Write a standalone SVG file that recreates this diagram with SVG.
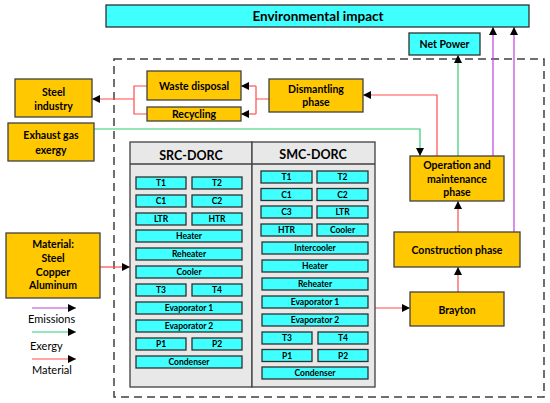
<svg xmlns="http://www.w3.org/2000/svg" width="550" height="403" viewBox="0 0 550 403">
<style>
.y{fill:#ffc800;stroke:#404040;stroke-width:1.3}
.c{fill:#40ffff;stroke:#303030;stroke-width:1.3}
.t{font-family:Lato,"Open Sans",sans-serif;font-weight:bold;fill:#000;text-anchor:middle;dominant-baseline:central}
.n{font-size:10.5px}
.s{font-size:8.5px}
.h{font-size:12.5px}
.lg{font-family:Lato,"Open Sans",sans-serif;font-size:11px;fill:#000}
.r{stroke:#ff4d4d;stroke-width:1.2;fill:none}
.g{stroke:#33cc77;stroke-width:1.2;fill:none}
.p{stroke:#c040e0;stroke-width:1.2;fill:none}
</style>
<defs>
<marker id="ah" viewBox="0 0 10 10" refX="10" refY="5" markerWidth="8" markerHeight="8" markerUnits="userSpaceOnUse" orient="auto"><path d="M0,0 L10,5 L0,10 z" fill="#000"/></marker>
</defs>
<rect width="550" height="403" fill="#fff"/>
<rect id="boundary" x="114" y="59" width="430" height="338" fill="none" stroke="#404040" stroke-width="1.5" stroke-dasharray="8 5"/>

<g id="connectors">
<path class="r" d="M269,99 H256 M256,86 V114"/>
<path class="r" d="M256,86 H241" marker-end="url(#ah)"/>
<path class="r" d="M256,114 H241" marker-end="url(#ah)"/>
<path class="r" d="M147,86 H134 V114 H147"/>
<path class="r" d="M134,99 H92" stroke-width="2" stroke="#ff6b6b" marker-end="url(#ah)"/>
<path class="g" d="M94,129 H420 V156" marker-end="url(#ah)"/>
<path class="r" d="M437,156 V95 H363" marker-end="url(#ah)"/>
<path class="g" d="M458,156 V55" marker-end="url(#ah)"/>
<path class="p" d="M493,156 V27" marker-end="url(#ah)"/>
<path class="p" d="M514,232 V27" marker-end="url(#ah)"/>
<path class="r" d="M458,232 V201" marker-end="url(#ah)"/>
<path class="r" d="M458,292 V267" marker-end="url(#ah)"/>
<path class="r" d="M375,308 H410" marker-end="url(#ah)"/>
<path class="r" d="M100,267 H130" marker-end="url(#ah)"/>
</g>

<g id="env">
<rect x="106" y="5" width="423" height="22" class="c"/>
<text x="318" y="16" class="t" font-size="13.5">Environmental impact</text>
</g>
<g id="netpower">
<rect x="409" y="33" width="71" height="22" class="c"/>
<text x="444.5" y="44" class="t n">Net Power</text>
</g>
<g id="steel">
<rect x="15" y="79" width="77" height="38" class="y"/>
<text x="53.5" y="92" class="t n">Steel</text>
<text x="53.5" y="106" class="t n">industry</text>
</g>
<g id="waste">
<rect x="147" y="71" width="94" height="29" class="y"/>
<text x="194" y="86" class="t n">Waste disposal</text>
</g>
<g id="recycling">
<rect x="147" y="107" width="94" height="14" class="y"/>
<text x="194" y="114" class="t n">Recycling</text>
</g>
<g id="dismantling">
<rect x="269" y="79" width="94" height="33" class="y"/>
<text x="316" y="89" class="t n">Dismantling</text>
<text x="316" y="102" class="t n">phase</text>
</g>
<g id="exhaust">
<rect x="8" y="123" width="86" height="38" class="y"/>
<text x="51" y="135" class="t n">Exhaust gas</text>
<text x="51" y="150" class="t n">exergy</text>
</g>
<g id="operation">
<rect x="410" y="156" width="94" height="45" class="y"/>
<text x="457" y="165" class="t n">Operation and</text>
<text x="457" y="178.5" class="t n">maintenance</text>
<text x="457" y="192" class="t n">phase</text>
</g>
<g id="construction">
<rect x="394" y="232" width="126" height="35" class="y"/>
<text x="457" y="250" class="t n">Construction phase</text>
</g>
<g id="brayton">
<rect x="410" y="292" width="94" height="34" class="y"/>
<text x="457" y="310" class="t n">Brayton</text>
</g>
<g id="material">
<rect x="6" y="233" width="94" height="65" class="y"/>
<text x="53" y="244" class="t n">Material:</text>
<text x="53" y="258" class="t n">Steel</text>
<text x="53" y="272" class="t n">Copper</text>
<text x="53" y="285" class="t n">Aluminum</text>
</g>

<g id="src-dorc">
<rect x="130" y="142" width="122" height="245" fill="#e8e8e8" stroke="#404040" stroke-width="1.3"/>
<line x1="130" y1="164" x2="252" y2="164" stroke="#404040" stroke-width="1.3"/>
<text x="191" y="155" class="t h">SRC-DORC</text>
<rect x="136" y="177" width="50" height="12" class="c"/><text x="161" y="183" class="t s">T1</text>
<rect x="192" y="177" width="50" height="12" class="c"/><text x="217" y="183" class="t s">T2</text>
<rect x="136" y="195" width="50" height="12" class="c"/><text x="161" y="201" class="t s">C1</text>
<rect x="192" y="195" width="50" height="12" class="c"/><text x="217" y="201" class="t s">C2</text>
<rect x="136" y="213" width="50" height="12" class="c"/><text x="161" y="219" class="t s">LTR</text>
<rect x="192" y="213" width="50" height="12" class="c"/><text x="217" y="219" class="t s">HTR</text>
<rect x="136" y="230" width="106" height="12" class="c"/><text x="189" y="236" class="t s">Heater</text>
<rect x="136" y="248" width="106" height="12" class="c"/><text x="189" y="254" class="t s">Reheater</text>
<rect x="136" y="266" width="106" height="12" class="c"/><text x="189" y="272" class="t s">Cooler</text>
<rect x="136" y="284" width="50" height="12" class="c"/><text x="161" y="290" class="t s">T3</text>
<rect x="192" y="284" width="50" height="12" class="c"/><text x="217" y="290" class="t s">T4</text>
<rect x="136" y="302" width="106" height="12" class="c"/><text x="189" y="308" class="t s">Evaporator 1</text>
<rect x="136" y="320" width="106" height="12" class="c"/><text x="189" y="326" class="t s">Evaporator 2</text>
<rect x="136" y="338" width="50" height="12" class="c"/><text x="161" y="344" class="t s">P1</text>
<rect x="192" y="338" width="50" height="12" class="c"/><text x="217" y="344" class="t s">P2</text>
<rect x="136" y="356" width="106" height="12" class="c"/><text x="189" y="362" class="t s">Condenser</text>
</g>

<g id="smc-dorc">
<rect x="252" y="142" width="123" height="245" fill="#e8e8e8" stroke="#404040" stroke-width="1.3"/>
<line x1="252" y1="164" x2="375" y2="164" stroke="#404040" stroke-width="1.3"/>
<text x="313" y="154" class="t h">SMC-DORC</text>
<rect x="261" y="171" width="51" height="12" class="c"/><text x="286.5" y="177" class="t s">T1</text>
<rect x="317" y="171" width="51" height="12" class="c"/><text x="342.5" y="177" class="t s">T2</text>
<rect x="261" y="188.5" width="51" height="12" class="c"/><text x="286.5" y="194.5" class="t s">C1</text>
<rect x="317" y="188.5" width="51" height="12" class="c"/><text x="342.5" y="194.5" class="t s">C2</text>
<rect x="261" y="206" width="51" height="12" class="c"/><text x="286.5" y="212" class="t s">C3</text>
<rect x="317" y="206" width="51" height="12" class="c"/><text x="342.5" y="212" class="t s">LTR</text>
<rect x="261" y="224" width="51" height="12" class="c"/><text x="286.5" y="230" class="t s">HTR</text>
<rect x="317" y="224" width="51" height="12" class="c"/><text x="342.5" y="230" class="t s">Cooler</text>
<rect x="262" y="242" width="106" height="12" class="c"/><text x="315" y="248" class="t s">Intercooler</text>
<rect x="262" y="260" width="106" height="12" class="c"/><text x="315" y="266" class="t s">Heater</text>
<rect x="262" y="278" width="106" height="12" class="c"/><text x="315" y="284" class="t s">Reheater</text>
<rect x="262" y="296" width="106" height="12" class="c"/><text x="315" y="302" class="t s">Evaporator 1</text>
<rect x="262" y="314" width="106" height="12" class="c"/><text x="315" y="320" class="t s">Evaporator 2</text>
<rect x="262" y="332" width="50" height="12" class="c"/><text x="287" y="338" class="t s">T3</text>
<rect x="318" y="332" width="50" height="12" class="c"/><text x="343" y="338" class="t s">T4</text>
<rect x="262" y="349.5" width="50" height="12" class="c"/><text x="287" y="355.5" class="t s">P1</text>
<rect x="318" y="349.5" width="50" height="12" class="c"/><text x="343" y="355.5" class="t s">P2</text>
<rect x="262" y="367" width="106" height="12" class="c"/><text x="315" y="373" class="t s">Condenser</text>
</g>

<g id="legend">
<path class="p" d="M32,308 H76" marker-end="url(#ah)"/>
<text x="28" y="323" class="lg">Emissions</text>
<path class="g" d="M32,332 H76" marker-end="url(#ah)"/>
<text x="30" y="350" class="lg">Exergy</text>
<path class="r" d="M32,359 H76" marker-end="url(#ah)"/>
<text x="32" y="374" class="lg">Material</text>
</g>
</svg>
